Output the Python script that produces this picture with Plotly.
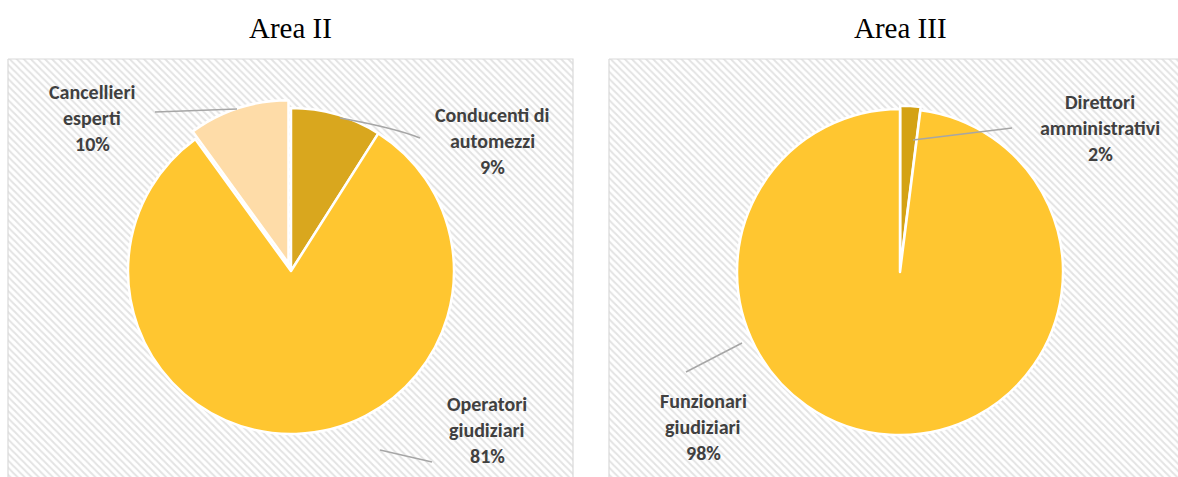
import plotly.graph_objects as go

W, H = 1178, 477

# ---- data ----
titles = ["Area II", "Area III"]
labels_II = ["Conducenti di automezzi", "Operatori giudiziari", "Cancellieri esperti"]
values_II = [9, 81, 10]
colors_II = ["#D9A71E", "#FFC630", "#FEDCA8"]
pull_II = [0, 0, 0.05]

labels_III = ["Direttori amministrativi", "Funzionari giudiziari"]
values_III = [2, 98]
colors_III = ["#D4A214", "#FFC630"]
pull_III = [0.02, 0]

# ---- layout helpers (pixel geometry) ----
def px_dom(cx, cy, r, pull):
    half = r * (1 + max(pull))
    return dict(x=[(cx - half) / W, (cx + half) / W],
                y=[1 - (cy + half) / H, 1 - (cy - half) / H])

fig = go.Figure()

# hatched panel backgrounds
panels = [(8, 573), (609, 1190)]
for (x0, x1) in panels:
    fig.add_trace(go.Scatter(
        x=[x0, x1, x1, x0, x0], y=[59, 59, 490, 490, 59],
        mode="lines", fill="toself", fillcolor="white",
        fillpattern=dict(shape="\\", fgcolor="#c8c8c8", bgcolor="white", size=5, solidity=0.4),
        line=dict(color="#d9d9d9", width=1.2), hoverinfo="skip", showlegend=False))

common = dict(sort=False, direction="clockwise", rotation=0, textinfo="none",
              hoverinfo="label+percent", showlegend=False)
fig.add_trace(go.Pie(labels=labels_II, values=values_II, pull=pull_II,
                     marker=dict(colors=colors_II, line=dict(color="white", width=2.5)),
                     domain=px_dom(291, 271, 163, pull_II), **common))
fig.add_trace(go.Pie(labels=labels_III, values=values_III, pull=pull_III,
                     marker=dict(colors=colors_III, line=dict(color="white", width=2.5)),
                     domain=px_dom(900, 272, 163, pull_III), **common))

# titles
for t, x in zip(titles, [290, 900]):
    fig.add_annotation(x=x, y=28, xref="x", yref="y", text=t, showarrow=False,
                       font=dict(family="Liberation Serif", size=29, color="black"))

def pct(vals, i):
    return f"{round(vals[i] / sum(vals) * 100)}%"

label_pos = [
    (labels_II, values_II, 0, 492, 115),
    (labels_II, values_II, 1, 487, 404),
    (labels_II, values_II, 2, 92, 92),
    (labels_III, values_III, 0, 1100, 102),
    (labels_III, values_III, 1, 703, 401),
]
for labs, vals, i, cx, y0 in label_pos:
    lines = labs[i].rsplit(" ", 1) + [pct(vals, i)]
    for k, ln in enumerate(lines):
        fig.add_annotation(x=cx, y=y0 + 26 * k, xref="x", yref="y", text=ln, showarrow=False,
                           font=dict(family="Carlito, Lato, sans-serif", size=20,
                                     color="#404040", weight="bold"))

# leader lines
leaders = [
    "M 340 118 Q 395 128 420 138",
    "M 380 450 L 432 462",
    "M 155 112 L 237 109",
    "M 913 140 L 1012 128",
    "M 686 372 L 742 343",
]
for p in leaders:
    fig.add_shape(type="path", path=p, xref="x", yref="y", layer="above",
                  line=dict(color="#a6a6a6", width=1.5))

fig.update_layout(
    width=W, height=H, margin=dict(l=0, r=0, t=0, b=0),
    paper_bgcolor="white", plot_bgcolor="white",
    xaxis=dict(range=[0, W], visible=False, domain=[0, 1], fixedrange=True),
    yaxis=dict(range=[H, 0], visible=False, domain=[0, 1], fixedrange=True),
)
fig.write_html("out.html", config={"displayModeBar": False},
               post_script="document.body.style.margin='0';")
